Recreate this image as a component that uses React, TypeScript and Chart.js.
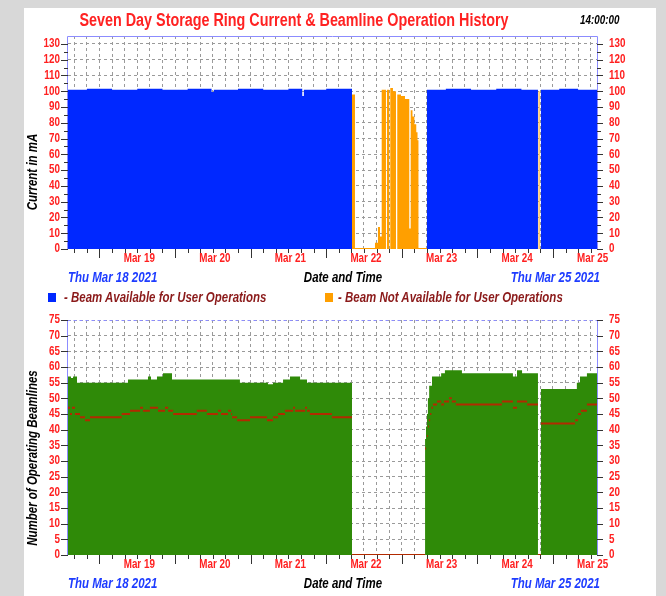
import React, { useEffect, useRef } from 'react';
import { Chart, registerables } from 'chart.js';
Chart.register(...registerables);

const SANS = '"Liberation Sans", Arial, sans-serif';
const NARROW_SCALE = 0.82;

// ---- x axis (hours since Thu Mar 18 2021 14:00) ----
const X_MIN = 0;
const X_MAX = 168;
const xTickHours = [2, 6, 10, 14, 18, 22, 26, 30, 34, 38, 42, 46, 50, 54, 58, 62, 66, 70, 74, 78, 82, 86, 90, 94, 98, 102, 106, 110, 114, 118, 122, 126, 130, 134, 138, 142, 146, 150, 154, 158, 162, 166];
const midnightHours = [10, 34, 58, 82, 106, 130, 154];
const dayLabelHours = [22, 46, 70, 94, 118, 142, 166];
const dayLabels = ['Mar 19', 'Mar 20', 'Mar 21', 'Mar 22', 'Mar 23', 'Mar 24', 'Mar 25'];

// ---- top chart: storage ring current (mA) ----
const currentTicks = [0, 10, 20, 30, 40, 50, 60, 70, 80, 90, 100, 110, 120, 130];
const currentMinorTicks = [5, 15, 25, 35, 45, 55, 65, 75, 85, 95, 105, 115, 125];
const availableHours = [0, 6, 14, 22, 30, 38, 45.6, 46.3, 54, 62, 70, 74.4, 74.9, 82, 90.19, 114.0, 120, 128, 136, 144, 149.25, 150.2, 156, 162, 168];
const availableValues = [101, 101.5, 101, 101.5, 101, 101.5, 99.5, 101, 101.5, 101, 101.5, 97, 101, 101.5, 0, 101, 101.5, 101, 101.5, 101, 0, 101, 101.5, 101, 101];
const notAvailableHours = [0, 90.19, 91.14, 97.49, 98.44, 99.08, 99.62, 100.98, 101.3, 102.03, 102.35, 103.2, 104.16, 104.57, 105.75, 107.02, 108.38, 108.83, 109.4, 110.0, 110.6, 111.0, 111.3, 114.0, 149.45, 149.75, 168];
const notAvailableValues = [0, 98, 0.6, 4, 14, 8, 101, 0, 101, 0, 102, 100, 0, 98, 97, 95, 13, 88, 84, 79, 74, 69, 0.6, 0, 100, 0, 0];

// ---- bottom chart: operating beamlines ----
const beamlineTicks = [0, 5, 10, 15, 20, 25, 30, 35, 40, 45, 50, 55, 60, 65, 70, 75];
const operatingHours = [0, 0.95, 1.6, 2.86, 19.05, 25.4, 26.36, 28.26, 30.17, 33.03, 54.6, 63.5, 65.1, 68.3, 70.5, 73.7, 75.9, 90.19, 113.4, 113.7, 114.0, 114.3, 114.7, 115.6, 118.5, 119.7, 125.1, 141.3, 142.6, 144.2, 149.25, 150.2, 161.6, 162.6, 164.8, 168];
const operatingValues = [57, 56.5, 57, 55, 56, 57, 56, 57, 58, 56, 55, 54.5, 55, 56, 57, 56, 55, 0, 37, 41, 45, 50, 54, 57, 58, 59, 58, 57, 59, 58, 0, 53, 55, 57, 58, 58];
const secondHours = [0, 0.64, 1.27, 2.22, 3.81, 5.4, 6.99, 17.05, 19.69, 22.9, 23.8, 26.0, 28.6, 30.8, 31.8, 33.4, 40.9, 44.1, 47.6, 48.6, 50.8, 51.8, 52.1, 53.7, 57.8, 63.2, 65.1, 66.7, 68.9, 71.5, 72.1, 75.3, 75.9, 76.8, 83.8, 90.19, 113.4, 113.7, 114.0, 114.3, 114.6, 115.0, 115.4, 115.9, 117.2, 118.5, 119.4, 121.0, 121.9, 123.2, 137.8, 141.3, 142.6, 145.8, 149.25, 150.2, 161.0, 162.0, 162.9, 164.8, 168];
const secondValues = [47, 45, 47, 45, 44, 43, 44, 45, 46, 47, 46, 47, 46, 47, 46, 45, 46, 45, 46, 45, 46, 45, 44, 43, 44, 43, 44, 45, 46, 47, 46, 47, 46, 45, 44, 0, 34, 36, 38, 41, 43, 45, 47, 48, 49, 48, 49, 50, 49, 48, 49, 47, 49, 48, 0, 42, 43, 45, 46, 48, 48];

const BLUE = '#0028ff';
const ORANGE = '#ff9f00';
const GREEN = '#2f8a08';
const DARKRED = '#b22a00';
const TICK_RED = '#ff2020';
const FRAME = '#8c8cff';
const GRID = '#9a9a9a';

const pts = (hs: number[], vs: number[]) => hs.map((h, i) => ({ x: h, y: vs[i] }));
// horizontal step segments only (no vertical connectors), broken by null points
const stepSegments = (hs: number[], vs: number[]) => {
  const out: { x: number; y: number | null }[] = [];
  for (let i = 0; i < hs.length - 1; i++) {
    out.push({ x: hs[i], y: vs[i] }, { x: hs[i + 1], y: vs[i] }, { x: hs[i + 1], y: null });
  }
  return out;
};

function narrowText(ctx: any, s: string, x: number, y: number, align: 'left' | 'right' | 'center') {
  ctx.save();
  ctx.translate(x, y);
  ctx.scale(NARROW_SCALE, 1);
  ctx.textAlign = align;
  ctx.textBaseline = 'middle';
  ctx.fillText(s, 0, 0);
  ctx.restore();
}

function framePlugin(yMajor: number[], yMinor: number[], topDash: number[]) {
  return {
    id: 'frameAndTicks',
    beforeDatasetsDraw(chart: any) {
      const { ctx, chartArea: a } = chart;
      ctx.save();
      ctx.strokeStyle = FRAME;
      ctx.lineWidth = 1;
      ctx.beginPath();
      ctx.moveTo(a.left - 0.5, a.bottom);
      ctx.lineTo(a.left - 0.5, a.top + 0.5);
      ctx.stroke();
      ctx.beginPath();
      ctx.moveTo(a.right + 0.5, a.bottom);
      ctx.lineTo(a.right + 0.5, a.top + 0.5);
      ctx.stroke();
      ctx.setLineDash(topDash);
      ctx.beginPath();
      ctx.moveTo(a.left - 0.5, a.top + 0.5);
      ctx.lineTo(a.right + 0.5, a.top + 0.5);
      ctx.stroke();
      ctx.restore();
    },
    afterDraw(chart: any) {
      const { ctx, chartArea: a, scales } = chart;
      const y = scales.y;
      const x = scales.x;
      ctx.save();
      ctx.strokeStyle = '#333';
      ctx.lineWidth = 1;
      ctx.beginPath();
      yMajor.forEach((v) => {
        const py = Math.round(y.getPixelForValue(v)) + 0.5;
        ctx.moveTo(a.left - 7, py);
        ctx.lineTo(a.left, py);
        ctx.moveTo(a.right, py);
        ctx.lineTo(a.right + 6, py);
      });
      yMinor.forEach((v) => {
        const py = Math.round(y.getPixelForValue(v)) + 0.5;
        ctx.moveTo(a.left - 4, py);
        ctx.lineTo(a.left, py);
        ctx.moveTo(a.right, py);
        ctx.lineTo(a.right + 4, py);
      });
      xTickHours.forEach((h) => {
        const px = Math.round(x.getPixelForValue(h)) + 0.5;
        const len = midnightHours.includes(h) ? 9 : 4;
        ctx.moveTo(px, a.bottom);
        ctx.lineTo(px, a.bottom + len);
      });
      ctx.stroke();

      // tick labels (condensed bold, like the original narrow face)
      ctx.fillStyle = TICK_RED;
      ctx.font = `bold 12px ${SANS}`;
      yMajor.forEach((v) => {
        const py = y.getPixelForValue(v);
        narrowText(ctx, String(v), a.left - 8, py, 'right');
        narrowText(ctx, String(v), a.right + 12, py, 'left');
      });
      dayLabelHours.forEach((h, i) => {
        const px = x.getPixelForValue(h);
        narrowText(ctx, dayLabels[i], px + 2, a.bottom + 10, 'center');
      });
      ctx.restore();
    },
  };
}

function makeOptions(yMax: number, yTicks: number[], xAxisHeight: number, padTop: number) {
  return {
    responsive: false,
    animation: false as const,
    layout: { padding: { top: padTop, left: 0, right: 0, bottom: 0 } },
    plugins: { legend: { display: false }, tooltip: { enabled: false }, title: { display: false } },
    elements: { point: { radius: 0 } },
    spanGaps: false,
    scales: {
      x: {
        type: 'linear' as const,
        min: X_MIN,
        max: X_MAX,
        afterBuildTicks: (s: any) => { s.ticks = xTickHours.map((v) => ({ value: v })); },
        afterFit: (s: any) => { s.height = xAxisHeight; },
        ticks: { display: false, autoSkip: false, maxRotation: 0, minRotation: 0 },
        grid: { color: GRID, lineWidth: 1, drawTicks: false },
        border: { display: false, dash: [3, 3] },
      },
      y: {
        type: 'linear' as const,
        position: 'left' as const,
        min: 0,
        max: yMax,
        afterBuildTicks: (s: any) => { s.ticks = yTicks.map((v) => ({ value: v })); },
        afterFit: (s: any) => { s.width = 68; },
        ticks: { display: false, autoSkip: false },
        grid: {
          color: (c: any) => (c.tick && c.tick.value === 0 ? 'rgba(0,0,0,0)' : GRID),
          lineWidth: 1,
          drawTicks: false,
        },
        border: { display: false, dash: [3, 3] },
      },
      y2: {
        type: 'linear' as const,
        position: 'right' as const,
        min: 0,
        max: yMax,
        afterBuildTicks: (s: any) => { s.ticks = yTicks.map((v) => ({ value: v })); },
        afterFit: (s: any) => { s.width = 69; },
        ticks: { display: false, autoSkip: false },
        grid: { display: false, drawTicks: false },
        border: { display: false },
      },
    },
  };
}

export default function App() {
  const topRef = useRef<HTMLCanvasElement>(null);
  const botRef = useRef<HTMLCanvasElement>(null);

  useEffect(() => {
    const top = new Chart(topRef.current!, {
      type: 'line',
      data: {
        datasets: [
          {
            label: 'Beam Available for User Operations',
            data: pts(availableHours, availableValues),
            stepped: 'before',
            fill: 'origin',
            backgroundColor: BLUE,
            borderColor: BLUE,
            borderWidth: 0,
            pointRadius: 0,
          },
          {
            label: 'Beam Not Available for User Operations',
            data: pts(notAvailableHours, notAvailableValues),
            stepped: 'before',
            fill: 'origin',
            backgroundColor: ORANGE,
            borderColor: ORANGE,
            borderWidth: 0,
            pointRadius: 0,
          },
        ],
      },
      options: makeOptions(135, currentTicks, 23, 36) as any,
      plugins: [framePlugin(currentTicks, currentMinorTicks, [])],
    });
    const bot = new Chart(botRef.current!, {
      type: 'line',
      data: {
        datasets: [
          {
            label: 'Operating Beamlines (second count)',
            data: stepSegments(secondHours, secondValues) as any,
            fill: false,
            borderColor: DARKRED,
            borderWidth: 2,
            pointRadius: 0,
            spanGaps: false,
          },
          {
            label: 'Number of Operating Beamlines',
            data: pts(operatingHours, operatingValues),
            stepped: 'before',
            fill: 'origin',
            backgroundColor: GREEN,
            borderColor: GREEN,
            borderWidth: 0,
            pointRadius: 0,
          },
        ],
      },
      options: makeOptions(75, beamlineTicks, 41, 20) as any,
      plugins: [framePlugin(beamlineTicks, [], [3, 3])],
    });
    return () => {
      top.destroy();
      bot.destroy();
    };
  }, []);

  const text = (
    key: string,
    x: number,
    y: number,
    s: string,
    size: number,
    color: string,
    opts: { align?: 'left' | 'center' | 'right'; italic?: boolean; rotate?: boolean } = {}
  ) => {
    const align = opts.align || 'left';
    const tx = align === 'left' ? '0' : align === 'center' ? '-50%' : '-100%';
    const ox = align === 'left' ? '0%' : align === 'center' ? '50%' : '100%';
    return (
      <div
        key={key}
        style={{
          position: 'absolute',
          left: x,
          top: y,
          transform: `translate(${tx}, -50%)${opts.rotate ? ' rotate(-90deg)' : ''} scaleX(${NARROW_SCALE})`,
          transformOrigin: `${ox} 50%`,
          whiteSpace: 'nowrap',
          fontFamily: SANS,
          fontWeight: 'bold',
          fontStyle: opts.italic ? 'italic' : 'normal',
          fontSize: size,
          lineHeight: `${Math.round(size * 1.2)}px`,
          color,
        }}
      >
        {s}
      </div>
    );
  };

  return (
    <div style={{ position: 'fixed', left: 0, top: 0, width: 666, height: 596, background: '#d8d8d8', overflow: 'hidden' }}>
      <div style={{ position: 'absolute', left: 24, top: 8, width: 632, height: 588, background: '#ffffff' }} />
      <canvas ref={topRef} width={666} height={272} style={{ position: 'absolute', left: 0, top: 0, width: 666, height: 272 }} />
      <canvas ref={botRef} width={666} height={296} style={{ position: 'absolute', left: 0, top: 300, width: 666, height: 296 }} />
      {text('title', 294, 20, 'Seven Day Storage Ring Current & Beamline Operation History', 17.5, '#ff2222', { align: 'center' })}
      {text('time', 580, 20, '14:00:00', 12, '#000', { italic: true })}
      {text('ytop', 32, 172, 'Current in mA', 14, '#000', { align: 'center', italic: true, rotate: true })}
      {text('ybot', 32, 458, 'Number of Operating Beamlines', 14, '#000', { align: 'center', italic: true, rotate: true })}
      {text('d1', 68, 277, 'Thu Mar 18 2021', 14, '#1e3cff', { italic: true })}
      {text('dt1', 343, 277, 'Date and Time', 14, '#000', { align: 'center', italic: true })}
      {text('d2', 600, 277, 'Thu Mar 25 2021', 14, '#1e3cff', { align: 'right', italic: true })}
      {text('d3', 68, 583, 'Thu Mar 18 2021', 14, '#1e3cff', { italic: true })}
      {text('dt2', 343, 583, 'Date and Time', 14, '#000', { align: 'center', italic: true })}
      {text('d4', 600, 583, 'Thu Mar 25 2021', 14, '#1e3cff', { align: 'right', italic: true })}
      <div style={{ position: 'absolute', left: 48, top: 293, width: 8, height: 9, background: BLUE }} />
      {text('l1', 64, 297, '- Beam Available for User Operations', 14, '#8b1a1a', { italic: true })}
      <div style={{ position: 'absolute', left: 325, top: 293, width: 8, height: 9, background: ORANGE }} />
      {text('l2', 338, 297, '- Beam Not Available for User Operations', 14, '#8b1a1a', { italic: true })}
    </div>
  );
}
